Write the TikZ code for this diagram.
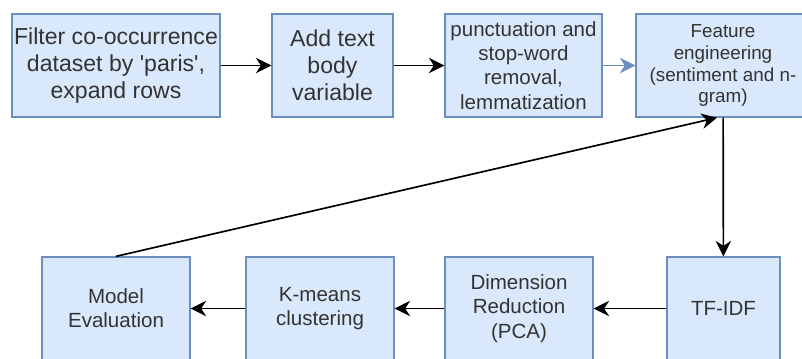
\documentclass[tikz,border=0pt]{standalone}
\usepackage{fontspec}
\setmainfont{Liberation Sans}[Ligatures=TeXOff]
\usetikzlibrary{arrows.meta}
\definecolor{boxfill}{HTML}{DAE8FC}
\definecolor{boxline}{HTML}{6C8EBF}
\definecolor{txt}{HTML}{333333}

\begin{document}
\begin{tikzpicture}[x=0.025cm,y=-0.025cm,
	stage/.style={shape=rectangle,draw=boxline,fill=boxfill,line width=0.9pt,text=txt,align=center,inner sep=0pt,minimum height=2.575cm},
	big/.style={font=\fontsize{16.4}{19.2}\selectfont},
	mid/.style={font=\fontsize{14.6}{17.2}\selectfont},
	small/.style={font=\fontsize{13.4}{15.6}\selectfont},
	flow/.style={-{Stealth[length=11pt,width=11pt,inset=3.5pt]}, line width=1.2pt}]

	\useasboundingbox (0,0) rectangle (802,358);

	\node[stage,big,minimum width=5.2cm] (filter) at (116,65.5)     {Filter co-occurrence\\dataset by 'paris',\\expand rows};
	\node[stage,big,minimum width=3.025cm] (addtext) at (332.5,65.5)     {Add text\\body\\variable};
	\node[stage,mid,minimum width=3.925cm] (clean) at (523.5,65.5)     {punctuation and\\stop-word\\removal,\\lemmatization};
	\node[stage,small,minimum width=4.35cm] (feature) at (723,65.5)     {Feature\\engineering\\(sentiment and n-\\gram)};
	\node[stage,mid,minimum width=2.825cm] (tfidf) at (723.5,308.5)     {TF-IDF};
	\node[stage,mid,minimum width=3.7cm] (pca) at (519,308.5)     {Dimension\\Reduction\\(PCA)};
	\node[stage,mid,minimum width=3.7cm] (kmeans) at (320,308.5)     {K-means\\clustering};
	\node[stage,mid,minimum width=3.7cm] (evaluation) at (116,308.5)     {Model\\Evaluation};

	\draw[flow] (filter) -- (addtext);
	\draw[flow] (addtext) -- (clean);
	\draw[flow, draw=boxline] (clean) -- (feature);
	\draw[flow] (feature) -- (tfidf);
	\draw[flow] (tfidf) -- (pca);
	\draw[flow] (pca) -- (kmeans);
	\draw[flow] (kmeans) -- (evaluation);
	\draw[flow] (evaluation.north) -- ([xshift=-0.15cm]feature.south);

\end{tikzpicture}
\end{document}
